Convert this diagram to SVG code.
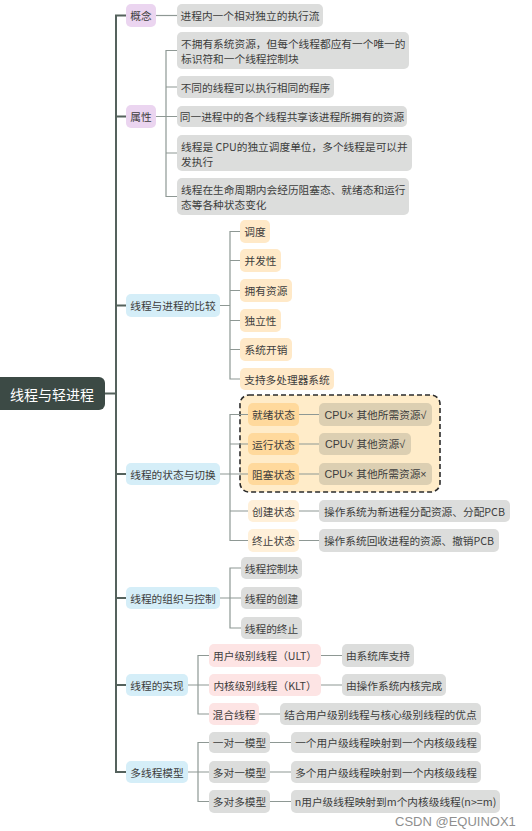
<svg xmlns="http://www.w3.org/2000/svg" width="532" height="831" viewBox="0 0 532 831">
<style>
text{font-family:"Noto Sans CJK SC","Liberation Sans",sans-serif;font-size:10.7px;fill:#3d3d3d;dominant-baseline:central}
.c{text-anchor:middle}
.l{text-anchor:start}
.lat{font-family:"Liberation Sans","Noto Sans CJK SC",sans-serif}
.purple{fill:#ebd5f0}
.blue{fill:#d5eef8}
.gray{fill:#dcdddc}
.org{fill:#ffe9c8}
.orgd{fill:#ffd99c}
.orgl{fill:#fff0d9}
.tan{fill:#dccfb2}
.pink{fill:#fde4e4}
.trunk{fill:none;stroke:#55625d;stroke-width:2}
.sub{fill:none;stroke:#8e9894;stroke-width:1.2}
.root{fill:#3c4a45}
.roott{fill:#ffffff;font-size:14px}
.wm{font-family:"Liberation Sans",sans-serif;font-size:13px;fill:#8f8f8f;stroke:#ffffff;stroke-width:0.6;paint-order:stroke}
</style>
<rect width="532" height="831" fill="#ffffff"/>
<g id="group-states">
<rect x="240" y="395" width="200" height="97" rx="9" fill="#ffecc9" stroke="#2b2b2b" stroke-width="1.6" stroke-dasharray="5,3"/>
</g>
<g id="connectors">
<path class="trunk" d="M105 393.5H116M126 15.5H116V772H126M116 116.5H126M116 305.5H126M116 474H126M116 598H126M116 685H126"/>
<path class="sub" d="M156 15.5H177"/>
<path class="sub" d="M156 116.5H166M177 50.5H166V196.5H177M166 87H177M166 116.5H177M166 153H177"/>
<path class="sub" d="M220 305.5H230M240 231.5H230V379H240M230 260.5H240M230 290.5H240M230 320.5H240M230 349.5H240"/>
<path class="sub" d="M220 474H230M248 414.5H230V540.5H248M230 444H248M230 474H248M230 511H248"/>
<path class="sub" d="M299 414.5H319M299 444H319M299 474H319M299 511H319M299 540.5H319"/>
<path class="sub" d="M220 598H230M241 568H230V628H241M230 598H241"/>
<path class="sub" d="M188 685H198M209 655.5H198V714H209M198 685H209"/>
<path class="sub" d="M321 655.5H342M321 685H342M259 714H280"/>
<path class="sub" d="M188 772H198M209 742.5H198V801.5H209M198 772H209"/>
<path class="sub" d="M270 742.5H291M270 772H291M270 801.5H291"/>
</g>
<g id="root"><rect class="root" x="-8" y="377" width="113" height="33" rx="6"/><text class="c roott" x="52" y="393.5">线程与轻进程</text></g>
<g id="n-gainian"><rect class="purple" x="126" y="4" width="30" height="23" rx="5"/><text class="c" x="141" y="15.5">概念</text></g>
<g id="n-gainian-1"><rect class="gray" x="177" y="4" width="146" height="23" rx="5"/><text class="c" x="250" y="15.5">进程内一个相对独立的执行流</text></g>
<g id="n-shuxing"><rect class="purple" x="126" y="105" width="30" height="23" rx="5"/><text class="c" x="141" y="116.5">属性</text></g>
<g id="n-shuxing-1"><rect class="gray" x="177" y="32" width="232" height="37" rx="5"/><text class="l" x="181" y="43">不拥有系统资源，但每个线程都应有一个唯一的</text><text class="l" x="181" y="58">标识符和一个线程控制块</text></g>
<g id="n-shuxing-2"><rect class="gray" x="177" y="76" width="157" height="22" rx="5"/><text class="c" x="255.5" y="87">不同的线程可以执行相同的程序</text></g>
<g id="n-shuxing-3"><rect class="gray" x="177" y="106" width="230" height="21" rx="5"/><text class="c" x="292" y="116.5">同一进程中的各个线程共享该进程所拥有的资源</text></g>
<g id="n-shuxing-4"><rect class="gray" x="177" y="135" width="235" height="36" rx="5"/><text class="l" x="181" y="146">线程是 CPU的独立调度单位，多个线程是可以并</text><text class="l" x="181" y="161">发执行</text></g>
<g id="n-shuxing-5"><rect class="gray" x="177" y="178" width="232" height="37" rx="5"/><text class="l" x="181" y="189">线程在生命周期内会经历阻塞态、就绪态和运行</text><text class="l" x="181" y="204">态等各种状态变化</text></g>
<g id="n-bijiao"><rect class="blue" x="126" y="294" width="94" height="23" rx="5"/><text class="c" x="173" y="305.5">线程与进程的比较</text></g>
<g id="n-bijiao-1"><rect class="org" x="240" y="220" width="30" height="23" rx="5"/><text class="c" x="255" y="231.5">调度</text></g>
<g id="n-bijiao-2"><rect class="org" x="240" y="249" width="41" height="23" rx="5"/><text class="c" x="260.5" y="260.5">并发性</text></g>
<g id="n-bijiao-3"><rect class="org" x="240" y="279" width="52" height="23" rx="5"/><text class="c" x="266" y="290.5">拥有资源</text></g>
<g id="n-bijiao-4"><rect class="org" x="240" y="309" width="41" height="23" rx="5"/><text class="c" x="260.5" y="320.5">独立性</text></g>
<g id="n-bijiao-5"><rect class="org" x="240" y="338" width="52" height="23" rx="5"/><text class="c" x="266" y="349.5">系统开销</text></g>
<g id="n-bijiao-6"><rect class="org" x="240" y="368" width="94" height="22" rx="5"/><text class="c" x="287" y="379">支持多处理器系统</text></g>
<g id="n-zhuangtai"><rect class="blue" x="126" y="463" width="94" height="22" rx="5"/><text class="c" x="173" y="474">线程的状态与切换</text></g>
<g id="n-jiuxu"><rect class="orgd" x="248" y="403" width="51" height="23" rx="5"/><text class="c" x="273.5" y="414.5">就绪状态</text></g>
<g id="n-jiuxu-1"><rect class="tan" x="319" y="403" width="113" height="23" rx="5"/><text class="c lat" x="375.5" y="414.5">CPU× 其他所需资源√</text></g>
<g id="n-yunxing"><rect class="orgd" x="248" y="433" width="51" height="22" rx="5"/><text class="c" x="273.5" y="444">运行状态</text></g>
<g id="n-yunxing-1"><rect class="tan" x="319" y="433" width="92" height="22" rx="5"/><text class="c lat" x="365" y="444">CPU√ 其他资源√</text></g>
<g id="n-zuse"><rect class="orgd" x="248" y="463" width="51" height="22" rx="5"/><text class="c" x="273.5" y="474">阻塞状态</text></g>
<g id="n-zuse-1"><rect class="tan" x="319" y="463" width="113" height="22" rx="5"/><text class="c lat" x="375.5" y="474">CPU× 其他所需资源×</text></g>
<g id="n-chuangjian"><rect class="orgl" x="248" y="500" width="51" height="22" rx="5"/><text class="c" x="273.5" y="511">创建状态</text></g>
<g id="n-chuangjian-1"><rect class="gray" x="319" y="500" width="191" height="22" rx="5"/><text class="c" x="414.5" y="511">操作系统为新进程分配资源、分配PCB</text></g>
<g id="n-zhongzhi"><rect class="orgl" x="248" y="529" width="51" height="23" rx="5"/><text class="c" x="273.5" y="540.5">终止状态</text></g>
<g id="n-zhongzhi-1"><rect class="gray" x="319" y="529" width="180" height="23" rx="5"/><text class="c" x="409" y="540.5">操作系统回收进程的资源、撤销PCB</text></g>
<g id="n-zuzhi"><rect class="blue" x="126" y="587" width="94" height="22" rx="5"/><text class="c" x="173" y="598">线程的组织与控制</text></g>
<g id="n-zuzhi-1"><rect class="gray" x="241" y="557" width="61" height="22" rx="5"/><text class="c" x="271.5" y="568">线程控制块</text></g>
<g id="n-zuzhi-2"><rect class="gray" x="241" y="587" width="61" height="22" rx="5"/><text class="c" x="271.5" y="598">线程的创建</text></g>
<g id="n-zuzhi-3"><rect class="gray" x="241" y="617" width="61" height="22" rx="5"/><text class="c" x="271.5" y="628">线程的终止</text></g>
<g id="n-shixian"><rect class="blue" x="126" y="674" width="62" height="22" rx="5"/><text class="c" x="157" y="685">线程的实现</text></g>
<g id="n-ult"><rect class="pink" x="209" y="644" width="112" height="23" rx="5"/><text class="c" x="265" y="655.5">用户级别线程（ULT）</text></g>
<g id="n-ult-1"><rect class="gray" x="342" y="644" width="72" height="23" rx="5"/><text class="c" x="378" y="655.5">由系统库支持</text></g>
<g id="n-klt"><rect class="pink" x="209" y="674" width="112" height="22" rx="5"/><text class="c" x="265" y="685">内核级别线程（KLT）</text></g>
<g id="n-klt-1"><rect class="gray" x="342" y="674" width="104" height="22" rx="5"/><text class="c" x="394" y="685">由操作系统内核完成</text></g>
<g id="n-hunhe"><rect class="pink" x="209" y="703" width="50" height="22" rx="5"/><text class="c" x="234" y="714">混合线程</text></g>
<g id="n-hunhe-1"><rect class="gray" x="280" y="703" width="201" height="22" rx="5"/><text class="c" x="380.5" y="714">结合用户级别线程与核心级别线程的优点</text></g>
<g id="n-moxing"><rect class="blue" x="126" y="761" width="62" height="22" rx="5"/><text class="c" x="157" y="772">多线程模型</text></g>
<g id="n-m11"><rect class="gray" x="209" y="732" width="61" height="21" rx="5"/><text class="c" x="239.5" y="742.5">一对一模型</text></g>
<g id="n-m11-1"><rect class="gray" x="291" y="732" width="190" height="21" rx="5"/><text class="c" x="386" y="742.5">一个用户级线程映射到一个内核级线程</text></g>
<g id="n-mn1"><rect class="gray" x="209" y="761" width="61" height="22" rx="5"/><text class="c" x="239.5" y="772">多对一模型</text></g>
<g id="n-mn1-1"><rect class="gray" x="291" y="761" width="190" height="22" rx="5"/><text class="c" x="386" y="772">多个用户级线程映射到一个内核级线程</text></g>
<g id="n-mnm"><rect class="gray" x="209" y="790" width="61" height="23" rx="5"/><text class="c" x="239.5" y="801.5">多对多模型</text></g>
<g id="n-mnm-1"><rect class="gray" x="291" y="790" width="209" height="23" rx="5"/><text class="c" x="395.5" y="801.5">n用户级线程映射到m个内核级线程(n&gt;=m)</text></g>
<text class="wm" x="395" y="821">CSDN @EQUINOX1</text>
</svg>
